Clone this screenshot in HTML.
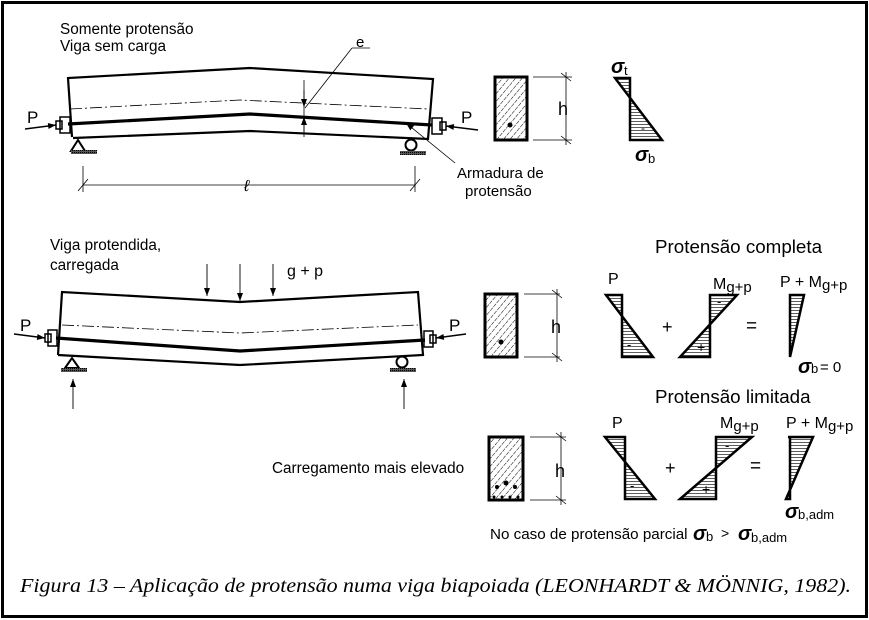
<!DOCTYPE html>
<html><head><meta charset="utf-8"><style>
html,body{margin:0;padding:0;background:#fff;width:869px;height:620px;overflow:hidden}
svg{display:block}
</style></head><body>
<svg width="869" height="620" viewBox="0 0 869 620" xmlns="http://www.w3.org/2000/svg" font-family="Liberation Sans, Arial, sans-serif">
<defs>
<pattern id="diag" width="5" height="5" patternUnits="userSpaceOnUse" patternTransform="rotate(40)">
<line x1="0" y1="0" x2="0" y2="5" stroke="#000" stroke-width="1" stroke-dasharray="3,1"/>
</pattern>
<pattern id="hor" width="4" height="3" patternUnits="userSpaceOnUse">
<line x1="0" y1="1.5" x2="4" y2="1.5" stroke="#333" stroke-width="0.8"/>
</pattern>
<pattern id="gnd" width="2" height="2" patternUnits="userSpaceOnUse">
<rect width="2" height="2" fill="#555"/><rect width="1" height="1" fill="#000"/>
</pattern>
<marker id="ar" markerWidth="8" markerHeight="6" refX="8" refY="3" orient="auto" markerUnits="userSpaceOnUse">
<path d="M0,0 L8,3 L0,6 z" fill="#000"/></marker>
</defs>
<rect x="2.5" y="2.5" width="864" height="614" fill="none" stroke="#000" stroke-width="3"/>

<text x="60" y="34" font-size="15.3">Somente protensão</text>
<text x="60" y="51" font-size="15.3">Viga sem carga</text>

<g fill="none" stroke="#000">
<polyline points="72,137 68,78 250,68 433,79 428,139 250,131 73,138" stroke-width="2.2"/>
<polyline points="68,124 250,114 432,125" stroke-width="3.2"/>
<polyline points="70,109 240,100 428,109" stroke-width="0.8" stroke-dasharray="12,3,2,3"/>
<rect x="60" y="117" width="10" height="16" stroke-width="1.5"/>
<rect x="56" y="121" width="6" height="8" stroke-width="1.5"/>
<rect x="432" y="118" width="10" height="16" stroke-width="1.5"/>
<rect x="440" y="122" width="6" height="8" stroke-width="1.5"/>
<line x1="25" y1="129" x2="56" y2="125" stroke-width="1.5" marker-end="url(#ar)"/>
<line x1="478" y1="130" x2="446" y2="126" stroke-width="1.5" marker-end="url(#ar)"/>
<path d="M78,140 L71,151 L85,151 Z" stroke-width="2"/>
<circle cx="411" cy="145" r="5.5" stroke-width="2"/>
<line x1="83" y1="166" x2="83" y2="192" stroke-width="0.8"/>
<line x1="415" y1="166" x2="415" y2="192" stroke-width="0.8"/>
<line x1="83" y1="185" x2="415" y2="185" stroke-width="0.8"/>
<line x1="78" y1="191" x2="88" y2="179" stroke-width="0.8"/>
<line x1="410" y1="191" x2="420" y2="179" stroke-width="0.8"/>
<line x1="304" y1="80" x2="304" y2="137" stroke-width="0.8"/>
<line x1="304" y1="90" x2="304" y2="107" stroke-width="0.8" marker-end="url(#ar)"/>
<line x1="304" y1="132" x2="304" y2="117" stroke-width="0.8" marker-end="url(#ar)"/>
<line x1="352" y1="48" x2="305" y2="108" stroke-width="0.8"/>
<line x1="352" y1="48" x2="370" y2="48" stroke-width="0.8"/>
<line x1="455" y1="163" x2="406" y2="123" stroke-width="0.8" marker-end="url(#ar)"/>
</g>
<rect x="71" y="150" width="26" height="4" fill="url(#gnd)"/>
<rect x="400" y="151" width="26" height="4" fill="url(#gnd)"/>
<text x="27" y="123" font-size="17">P</text>
<text x="461" y="123" font-size="17">P</text>
<text x="356" y="47" font-size="15">e</text>
<text x="244" y="191" font-size="16" font-style="italic">ℓ</text>
<text x="457" y="178" font-size="15">Armadura de</text>
<text x="465" y="196" font-size="15">protensão</text>

<rect x="495" y="77" width="32" height="63" fill="url(#diag)" stroke="#000" stroke-width="3"/>
<circle cx="510" cy="125" r="2.5" fill="#000"/>
<g stroke="#000" stroke-width="0.8" fill="none">
<line x1="533" y1="77" x2="572" y2="77"/><line x1="533" y1="140" x2="572" y2="140"/>
<line x1="566" y1="72" x2="566" y2="145"/>
<line x1="561" y1="73" x2="571" y2="81"/><line x1="561" y1="136" x2="571" y2="144"/>
</g>
<text x="558" y="115" font-size="18">h</text>
<path d="M615,78 L630,78 L630,140 L662,140 Z" fill="url(#hor)" stroke="#000" stroke-width="2.5"/>
<text x="611" y="73" font-size="20" font-weight="bold" font-style="italic">σ</text><text x="624" y="75" font-size="13">t</text>
<text x="635" y="161" font-size="20" font-weight="bold" font-style="italic">σ</text><text x="648" y="163" font-size="13">b</text>
<text x="641" y="132" font-size="12">-</text>

<text x="50" y="250" font-size="15.3">Viga protendida,</text>
<text x="50" y="270" font-size="15.3">carregada</text>
<text x="287" y="276" font-size="16">g + p</text>
<g fill="none" stroke="#000">
<polyline points="58,355 62,292 240,302 418,292 423,355 240,365 58,355" stroke-width="2.2"/>
<polyline points="56,338 240,351 425,340" stroke-width="3.2"/>
<polyline points="62,325 240,333 418,325" stroke-width="0.8" stroke-dasharray="12,3,2,3"/>
<rect x="48" y="330" width="9" height="16" stroke-width="1.5"/>
<rect x="45" y="334" width="6" height="8" stroke-width="1.5"/>
<rect x="424" y="331" width="9" height="16" stroke-width="1.5"/>
<rect x="430" y="335" width="6" height="8" stroke-width="1.5"/>
<line x1="14" y1="334" x2="45" y2="338" stroke-width="1.5" marker-end="url(#ar)"/>
<line x1="466" y1="334" x2="436" y2="338" stroke-width="1.5" marker-end="url(#ar)"/>
<path d="M72,358 L65,368 L79,368 Z" stroke-width="2"/>
<circle cx="402" cy="362" r="5.5" stroke-width="2"/>
<line x1="207" y1="264" x2="207" y2="296" stroke-width="0.9" marker-end="url(#ar)"/>
<line x1="240" y1="264" x2="240" y2="301" stroke-width="0.9" marker-end="url(#ar)"/>
<line x1="273" y1="264" x2="273" y2="296" stroke-width="0.9" marker-end="url(#ar)"/>
<line x1="73" y1="409" x2="73" y2="379" stroke-width="0.9" marker-end="url(#ar)"/>
<line x1="404" y1="409" x2="404" y2="379" stroke-width="0.9" marker-end="url(#ar)"/>
</g>
<rect x="61" y="368" width="26" height="4" fill="url(#gnd)"/>
<rect x="390" y="368" width="26" height="4" fill="url(#gnd)"/>
<text x="20" y="331" font-size="17">P</text>
<text x="449" y="331" font-size="17">P</text>

<text x="655" y="253" font-size="18.8">Protensão completa</text>
<rect x="485" y="294" width="32" height="63" fill="url(#diag)" stroke="#000" stroke-width="3"/>
<circle cx="501" cy="342" r="2.5" fill="#000"/>
<g stroke="#000" stroke-width="0.8" fill="none">
<line x1="524" y1="294" x2="560" y2="294"/><line x1="524" y1="357" x2="560" y2="357"/>
<line x1="557" y1="289" x2="557" y2="362"/>
<line x1="552" y1="290" x2="562" y2="298"/><line x1="552" y1="353" x2="562" y2="361"/>
</g>
<text x="551" y="333" font-size="18">h</text>
<text x="608" y="284" font-size="16">P</text>
<path d="M606,295 L622,295 L622,357 L653,357 Z" fill="url(#hor)" stroke="#000" stroke-width="2.5"/>
<text x="627" y="349" font-size="13">-</text>
<text x="662" y="333" font-size="18">+</text>
<text x="713" y="289" font-size="16">M<tspan font-size="15" dy="3">g+p</tspan></text>
<path d="M737,295 L710,295 L710,357 L680,357 Z" fill="url(#hor)" stroke="#000" stroke-width="2.5"/>
<text x="717" y="306" font-size="13">-</text>
<text x="697" y="352" font-size="14">+</text>
<text x="746" y="332" font-size="19">=</text>
<text x="780" y="287" font-size="16">P + M<tspan font-size="15" dy="3">g+p</tspan></text>
<path d="M790,295 L804,295 L790,357 Z" fill="url(#hor)" stroke="#000" stroke-width="2.5"/>
<text x="798" y="373" font-size="20" font-weight="bold" font-style="italic">σ</text><text x="811" y="373" font-size="13">b</text><text x="820" y="372" font-size="15">= 0</text>

<text x="655" y="403" font-size="18.8">Protensão limitada</text>
<text x="272" y="473" font-size="15.3">Carregamento mais elevado</text>
<rect x="489" y="437" width="34" height="63" fill="url(#diag)" stroke="#000" stroke-width="3"/>
<g fill="#000"><circle cx="497" cy="487" r="2"/><circle cx="506" cy="483" r="2.5"/><circle cx="515" cy="487" r="2"/>
<circle cx="494" cy="497" r="1.5"/><circle cx="502" cy="497" r="1.5"/><circle cx="510" cy="497" r="1.5"/><circle cx="518" cy="497" r="1.5"/></g>
<g stroke="#000" stroke-width="0.8" fill="none">
<line x1="530" y1="437" x2="566" y2="437"/><line x1="530" y1="500" x2="566" y2="500"/>
<line x1="561" y1="432" x2="561" y2="505"/>
<line x1="556" y1="433" x2="566" y2="441"/><line x1="556" y1="496" x2="566" y2="504"/>
</g>
<text x="555" y="477" font-size="18">h</text>
<text x="612" y="428" font-size="16">P</text>
<path d="M605,437 L625,437 L625,499 L655,499 Z" fill="url(#hor)" stroke="#000" stroke-width="2.5"/>
<text x="630" y="490" font-size="13">-</text>
<text x="665" y="474" font-size="18">+</text>
<text x="720" y="428" font-size="16">M<tspan font-size="15" dy="3">g+p</tspan></text>
<path d="M752,437 L716,437 L716,499 L680,499 Z" fill="url(#hor)" stroke="#000" stroke-width="2.5"/>
<text x="725" y="450" font-size="13">-</text>
<text x="702" y="494" font-size="14">+</text>
<text x="750" y="472" font-size="19">=</text>
<text x="786" y="428" font-size="16">P + M<tspan font-size="15" dy="3">g+p</tspan></text>
<path d="M788,437 L813,437 L786,499 L790,499 L790,437" fill="url(#hor)" stroke="#000" stroke-width="2.5"/>
<text x="785" y="518" font-size="20" font-weight="bold" font-style="italic">σ</text><text x="798" y="519" font-size="13">b,adm</text>
<text x="490" y="539" font-size="15.2">No caso de protensão parcial</text>
<text x="693" y="540" font-size="20" font-weight="bold" font-style="italic">σ</text><text x="706" y="541" font-size="13">b</text>
<text x="721" y="538" font-size="14">&gt;</text>
<text x="738" y="540" font-size="20" font-weight="bold" font-style="italic">σ</text><text x="751" y="542" font-size="13">b,adm</text>

<text x="20" y="592" font-size="20" font-style="italic" font-family="Liberation Serif, Times New Roman, serif" textLength="831" lengthAdjust="spacingAndGlyphs">Figura 13 – Aplicação de protensão numa viga biapoiada (LEONHARDT &amp; MÖNNIG, 1982).</text>
</svg>
</body></html>
